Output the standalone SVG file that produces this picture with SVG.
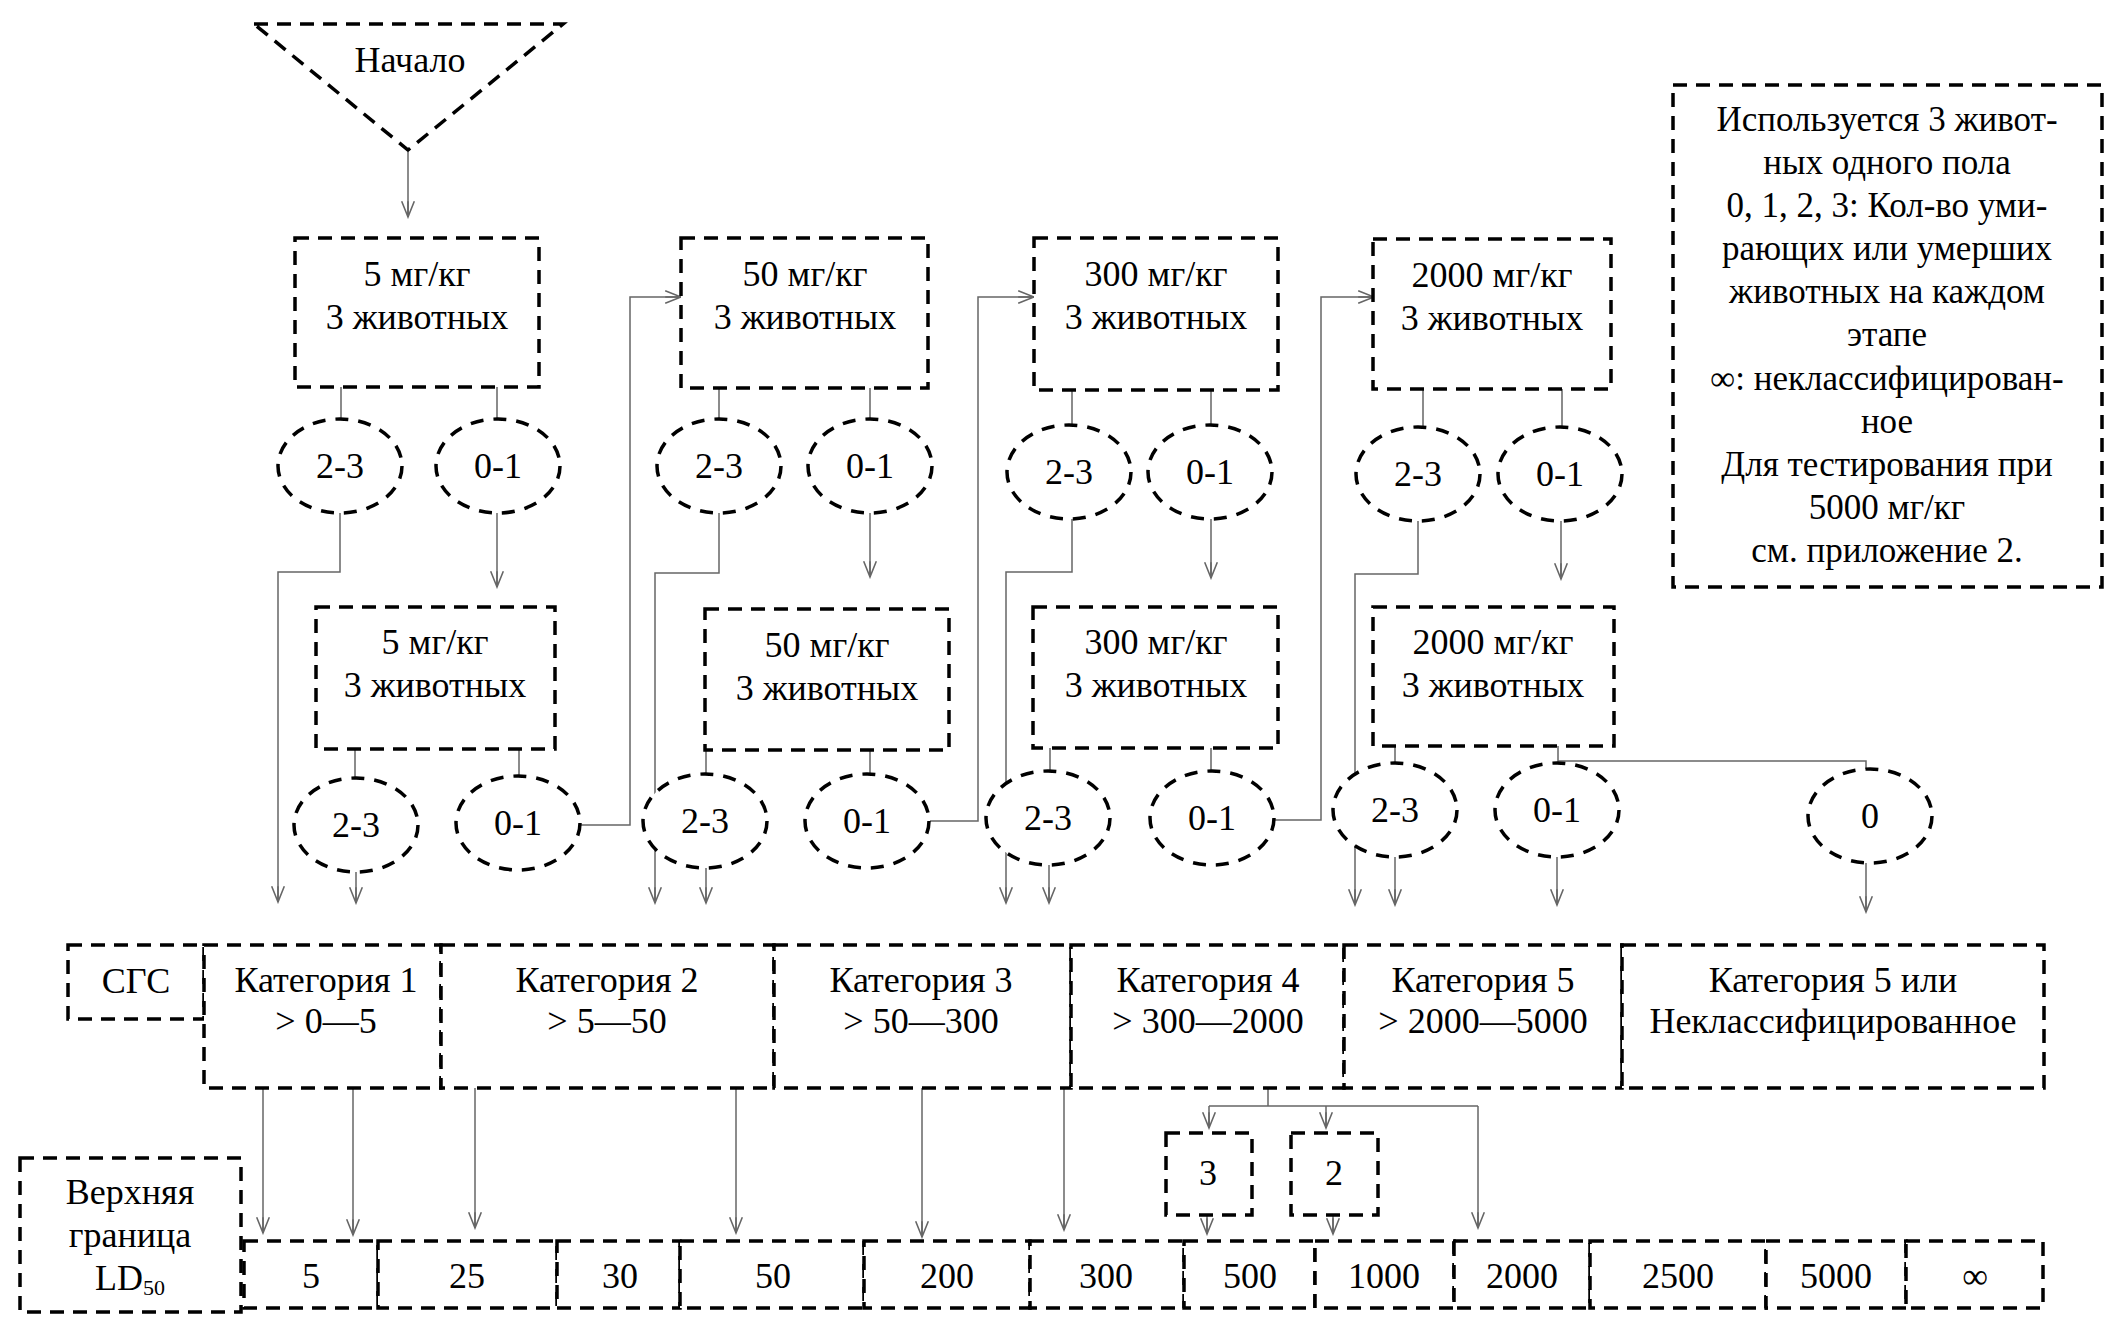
<svg xmlns="http://www.w3.org/2000/svg" width="2126" height="1334" viewBox="0 0 2126 1334">
<style>
.n{fill:#fff;stroke:#000;stroke-width:3.5;stroke-dasharray:14 9}
.c{fill:#fff;stroke:#000;stroke-width:3.5;stroke-dasharray:13 10}
.t{font-family:"Liberation Serif","Times New Roman",serif;font-size:36px;fill:#000;text-anchor:middle}
.l{font-size:35px}
.k{fill:none;stroke:#666;stroke-width:1.5}
.a{marker-end:url(#ah)}
</style>
<defs>
<marker id="ah" markerUnits="userSpaceOnUse" markerWidth="20" markerHeight="20" viewBox="-17 -9 19 18" refX="0" refY="0" orient="auto">
<path d="M-15,-6 L0,0 L-15,6 M-15,0 L0,0" fill="none" stroke="#666" stroke-width="1.5"/>
</marker>
</defs>
<rect width="2126" height="1334" fill="#fff"/>
<g id="connectors">
<path class="k a" d="M408,152 V217"/>
<path class="k" d="M341,387 V419 M497,387 V419 M719,388 V419 M870,388 V419 M1072,390 V425 M1211,390 V425 M1423,389 V427 M1562,389 V427"/>
<path class="k a" d="M340,513 V572 H278 V902"/>
<path class="k a" d="M497,513 V587"/>
<path class="k a" d="M719,513 V573 H655 V903"/>
<path class="k a" d="M870,513 V577"/>
<path class="k a" d="M1072,519 V572 H1006 V903"/>
<path class="k a" d="M1211,519 V578"/>
<path class="k a" d="M1418,521 V574 H1355 V905"/>
<path class="k a" d="M1561,521 V579"/>
<path class="k" d="M355,749 V778 M519,749 V776 M706,750 V774 M870,750 V774 M1050,748 V771 M1211,748 V771 M1395,746 V763 M1558,746 V763 M1558,761 H1866 V769"/>
<path class="k a" d="M356,872 V903"/>
<path class="k a" d="M581,825 H630 V297 H681"/>
<path class="k a" d="M706,868 V903"/>
<path class="k a" d="M930,821 H978 V297 H1034"/>
<path class="k a" d="M1049,865 V903"/>
<path class="k a" d="M1274,820 H1321 V297 H1374"/>
<path class="k a" d="M1395,857 V905"/>
<path class="k a" d="M1557,857 V905"/>
<path class="k a" d="M1866,863 V912"/>
<path class="k a" d="M263,1088 V1233"/>
<path class="k a" d="M353,1088 V1235"/>
<path class="k a" d="M475,1088 V1228"/>
<path class="k a" d="M736,1088 V1233"/>
<path class="k a" d="M922,1088 V1237"/>
<path class="k a" d="M1064,1088 V1230"/>
<path class="k" d="M1268,1088 V1106 M1209,1106 H1478"/>
<path class="k a" d="M1209,1106 V1128"/>
<path class="k a" d="M1326,1106 V1128"/>
<path class="k a" d="M1478,1106 V1228"/>
<path class="k a" d="M1207,1215 V1234"/>
<path class="k a" d="M1333,1215 V1234"/>
</g>
<g id="start"><polygon class="n" points="254,24 563,24 408,150"/><text class="t" x="410" y="72">Начало</text></g>
<g id="b1"><rect class="n" x="295" y="238" width="244" height="149"/><text class="t" x="417" y="286">5 мг/кг</text><text class="t" x="417" y="329">3 животных</text></g>
<g id="b2"><rect class="n" x="681" y="238" width="247" height="150"/><text class="t" x="805" y="286">50 мг/кг</text><text class="t" x="805" y="329">3 животных</text></g>
<g id="b3"><rect class="n" x="1034" y="238" width="244" height="152"/><text class="t" x="1156" y="286">300 мг/кг</text><text class="t" x="1156" y="329">3 животных</text></g>
<g id="b4"><rect class="n" x="1373" y="239" width="238" height="150"/><text class="t" x="1492" y="287">2000 мг/кг</text><text class="t" x="1492" y="330">3 животных</text></g>
<g id="legend"><rect class="n" x="1673" y="85" width="429" height="502"/>
<text class="t l" x="1887" y="131">Используется 3 живот-</text>
<text class="t l" x="1887" y="174">ных одного пола</text>
<text class="t l" x="1887" y="217">0, 1, 2, 3: Кол-во уми-</text>
<text class="t l" x="1887" y="260">рающих или умерших</text>
<text class="t l" x="1887" y="303">животных на каждом</text>
<text class="t l" x="1887" y="346">этапе</text>
<text class="t l" x="1887" y="390">∞: неклассифицирован-</text>
<text class="t l" x="1887" y="433">ное</text>
<text class="t l" x="1887" y="476">Для тестирования при</text>
<text class="t l" x="1887" y="519">5000 мг/кг</text>
<text class="t l" x="1887" y="562">см. приложение 2.</text>
</g>
<g id="c1a"><ellipse class="c" cx="340" cy="466" rx="62" ry="47"/><text class="t" x="340" y="478">2-3</text></g>
<g id="c1b"><ellipse class="c" cx="498" cy="466" rx="62" ry="47"/><text class="t" x="498" y="478">0-1</text></g>
<g id="c2a"><ellipse class="c" cx="719" cy="466" rx="62" ry="47"/><text class="t" x="719" y="478">2-3</text></g>
<g id="c2b"><ellipse class="c" cx="870" cy="466" rx="62" ry="47"/><text class="t" x="870" y="478">0-1</text></g>
<g id="c3a"><ellipse class="c" cx="1069" cy="472" rx="62" ry="47"/><text class="t" x="1069" y="484">2-3</text></g>
<g id="c3b"><ellipse class="c" cx="1210" cy="472" rx="62" ry="47"/><text class="t" x="1210" y="484">0-1</text></g>
<g id="c4a"><ellipse class="c" cx="1418" cy="474" rx="62" ry="47"/><text class="t" x="1418" y="486">2-3</text></g>
<g id="c4b"><ellipse class="c" cx="1560" cy="474" rx="62" ry="47"/><text class="t" x="1560" y="486">0-1</text></g>
<g id="b5"><rect class="n" x="316" y="607" width="239" height="142"/><text class="t" x="435" y="654">5 мг/кг</text><text class="t" x="435" y="697">3 животных</text></g>
<g id="b6"><rect class="n" x="705" y="609" width="244" height="141"/><text class="t" x="827" y="657">50 мг/кг</text><text class="t" x="827" y="700">3 животных</text></g>
<g id="b7"><rect class="n" x="1033" y="607" width="245" height="141"/><text class="t" x="1156" y="654">300 мг/кг</text><text class="t" x="1156" y="697">3 животных</text></g>
<g id="b8"><rect class="n" x="1373" y="607" width="241" height="139"/><text class="t" x="1493" y="654">2000 мг/кг</text><text class="t" x="1493" y="697">3 животных</text></g>
<g id="c5a"><ellipse class="c" cx="356" cy="825" rx="62" ry="47"/><text class="t" x="356" y="837">2-3</text></g>
<g id="c5b"><ellipse class="c" cx="518" cy="823" rx="62" ry="47"/><text class="t" x="518" y="835">0-1</text></g>
<g id="c6a"><ellipse class="c" cx="705" cy="821" rx="62" ry="47"/><text class="t" x="705" y="833">2-3</text></g>
<g id="c6b"><ellipse class="c" cx="867" cy="821" rx="62" ry="47"/><text class="t" x="867" y="833">0-1</text></g>
<g id="c7a"><ellipse class="c" cx="1048" cy="818" rx="62" ry="47"/><text class="t" x="1048" y="830">2-3</text></g>
<g id="c7b"><ellipse class="c" cx="1212" cy="818" rx="62" ry="47"/><text class="t" x="1212" y="830">0-1</text></g>
<g id="c8a"><ellipse class="c" cx="1395" cy="810" rx="62" ry="47"/><text class="t" x="1395" y="822">2-3</text></g>
<g id="c8b"><ellipse class="c" cx="1557" cy="810" rx="62" ry="47"/><text class="t" x="1557" y="822">0-1</text></g>
<g id="c8c"><ellipse class="c" cx="1870" cy="816" rx="62" ry="47"/><text class="t" x="1870" y="828">0</text></g>
<g id="sgc"><rect class="n" x="68" y="945" width="136" height="74"/><text class="t" x="136" y="993">СГС</text></g>
<g id="cat1"><rect class="n" x="204" y="945" width="237" height="143"/><text class="t" x="326" y="992">Категория 1</text><text class="t" x="326" y="1033">&gt; 0—5</text></g>
<g id="cat2"><rect class="n" x="441" y="945" width="333" height="143"/><text class="t" x="607" y="992">Категория 2</text><text class="t" x="607" y="1033">&gt; 5—50</text></g>
<g id="cat3"><rect class="n" x="774" y="945" width="297" height="143"/><text class="t" x="921" y="992">Категория 3</text><text class="t" x="921" y="1033">&gt; 50—300</text></g>
<g id="cat4"><rect class="n" x="1071" y="945" width="273" height="143"/><text class="t" x="1208" y="992">Категория 4</text><text class="t" x="1208" y="1033">&gt; 300—2000</text></g>
<g id="cat5"><rect class="n" x="1344" y="945" width="278" height="143"/><text class="t" x="1483" y="992">Категория 5</text><text class="t" x="1483" y="1033">&gt; 2000—5000</text></g>
<g id="cat5u"><rect class="n" x="1622" y="945" width="422" height="143"/><text class="t" x="1833" y="992">Категория 5 или</text><text class="t" x="1833" y="1033">Неклассифицированное</text></g>
<g id="box3"><rect class="n" x="1166" y="1133" width="86" height="82"/><text class="t" x="1208" y="1185">3</text></g>
<g id="box2"><rect class="n" x="1291" y="1133" width="87" height="82"/><text class="t" x="1334" y="1185">2</text></g>
<g id="ld"><rect class="n" x="20" y="1158" width="221" height="154"/><text class="t" x="130" y="1204">Верхняя</text><text class="t" x="130" y="1247">граница</text><text class="t" x="130" y="1290">LD<tspan font-size="22" dy="5">50</tspan></text></g>
<g id="v5"><rect class="n" x="244" y="1241" width="134" height="67"/><text class="t" x="311" y="1288">5</text></g>
<g id="v25"><rect class="n" x="378" y="1241" width="179" height="67"/><text class="t" x="467" y="1288">25</text></g>
<g id="v30"><rect class="n" x="557" y="1241" width="123" height="67"/><text class="t" x="620" y="1288">30</text></g>
<g id="v50"><rect class="n" x="680" y="1241" width="184" height="67"/><text class="t" x="773" y="1288">50</text></g>
<g id="v200"><rect class="n" x="864" y="1241" width="166" height="67"/><text class="t" x="947" y="1288">200</text></g>
<g id="v300"><rect class="n" x="1030" y="1241" width="154" height="67"/><text class="t" x="1106" y="1288">300</text></g>
<g id="v500"><rect class="n" x="1184" y="1241" width="131" height="67"/><text class="t" x="1250" y="1288">500</text></g>
<g id="v1000"><rect class="n" x="1315" y="1241" width="139" height="67"/><text class="t" x="1384" y="1288">1000</text></g>
<g id="v2000"><rect class="n" x="1454" y="1241" width="136" height="67"/><text class="t" x="1522" y="1288">2000</text></g>
<g id="v2500"><rect class="n" x="1590" y="1241" width="176" height="67"/><text class="t" x="1678" y="1288">2500</text></g>
<g id="v5000"><rect class="n" x="1766" y="1241" width="140" height="67"/><text class="t" x="1836" y="1288">5000</text></g>
<g id="vinf"><rect class="n" x="1906" y="1241" width="137" height="67"/><text class="t" x="1975" y="1288">∞</text></g>
</svg>
